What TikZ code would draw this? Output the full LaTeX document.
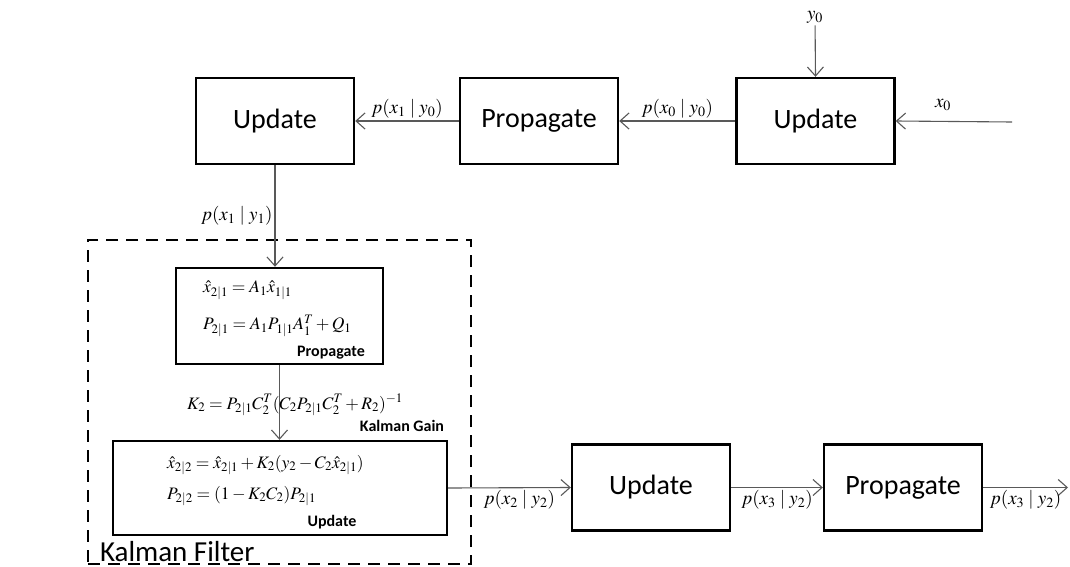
\documentclass[tikz,border=0pt]{standalone}
\usepackage{mathptmx}
\usepackage[no-math]{fontspec}
\setmainfont{Carlito}
\usetikzlibrary{arrows.meta}

\begin{document}
\begin{tikzpicture}[
		x=1pt, y=-1pt,
		block/.style={draw, line width=2.4pt, minimum width=158pt, minimum height=86pt, inner sep=0pt, font=\fontsize{28}{32}\selectfont},
		eqbox/.style={draw, line width=2.4pt, inner sep=0pt},
		flow/.style={-{Straight Barb[length=9pt, width=16pt]}, line width=1.1pt, draw=black!65},
		lab/.style={font=\fontsize{19}{22}\selectfont, inner sep=2pt},
		eq/.style={font=\fontsize{17.5}{20}\selectfont, inner sep=0pt},
		tag/.style={font=\fontsize{16}{18}\selectfont\bfseries, inner sep=0pt}
	]
  \useasboundingbox (0,0) rectangle (1070,567);

  \node (upd1) [block] at (275,121) {Update};
  \node (prop1) [block] at (539,121) {Propagate};
  \node (upd0) [block] at (815.5,121) {Update};
  \node (y0) [lab] at (815,17) {$y_0$};
  \node (x0) [lab] at (943,105) {$x_0$};
  \coordinate (x0in) at (1012,122);

  \draw[flow] (y0) -- (upd0.north);
  \draw[flow] (x0in) -- (upd0.east);
  \draw[flow] (upd0) -- (prop1) node[lab, midway, above] {$p(x_0 \mid y_0)$};
  \draw[flow] (prop1) -- (upd1) node[lab, midway, above] {$p(x_1 \mid y_0)$};

  \node (kf) [draw, line width=2.4pt, dash pattern=on 12pt off 8pt, minimum width=383pt, minimum height=324pt] at (279.5,402) {};
  \node (kflab) [anchor=south west, font=\fontsize{29}{33}\selectfont, inner sep=0pt] at ([xshift=13pt, yshift=3pt]kf.south west) {Kalman Filter};

  \node (kfprop) [eqbox, minimum width=207pt, minimum height=96pt] at (279.5,316) {};
  \node (eq1) [eq, anchor=west] at (203,290) {$\hat{x}_{2|1} = A_1\hat{x}_{1|1}$};
  \node (eq2) [eq, anchor=west] at (203,326) {$P_{2|1} = A_1P_{1|1}A_1^T + Q_1$};
  \node (propl) [tag] at (331,353) {Propagate};

  \node (kfupd) [eqbox, minimum width=334pt, minimum height=94pt] at (280,488) {};
  \node (eq3) [eq, anchor=west] at (167,465) {$\hat{x}_{2|2} = \hat{x}_{2|1} + K_2(y_2 - C_2\hat{x}_{2|1})$};
  \node (eq4) [eq, anchor=west] at (167,496) {$P_{2|2} = (1 - K_2C_2)P_{2|1}$};
  \node (updl) [tag] at (332,522) {Update};

  \draw[flow] (upd1.south) -- (upd1.south |- kfprop.north) node[lab, midway, left] {$p(x_1 \mid y_1)$};
  \draw[flow] (kfprop.south) -- (kfprop.south |- kfupd.north);
  \node (gain) [eq] at (295,405) {$K_2 = P_{2|1}C_2^T(C_2P_{2|1}C_2^T + R_2)^{-1}$};
  \node (gainl) [tag] at (402,426) {Kalman Gain};

  \node (upd2) [block] at (651,487.5) {Update};
  \node (prop2) [block] at (903,487.5) {Propagate};
  \coordinate (out) at (1068,487.5);

  \draw[flow] (kfupd.east) -- (upd2.west) node[lab, pos=0.58, below] {$p(x_2 \mid y_2)$};
  \draw[flow] (upd2) -- (prop2) node[lab, midway, below] {$p(x_3 \mid y_2)$};
  \draw[flow] (prop2) -- (out) node[lab, midway, below] {$p(x_3 \mid y_2)$};
\end{tikzpicture}
\end{document}
